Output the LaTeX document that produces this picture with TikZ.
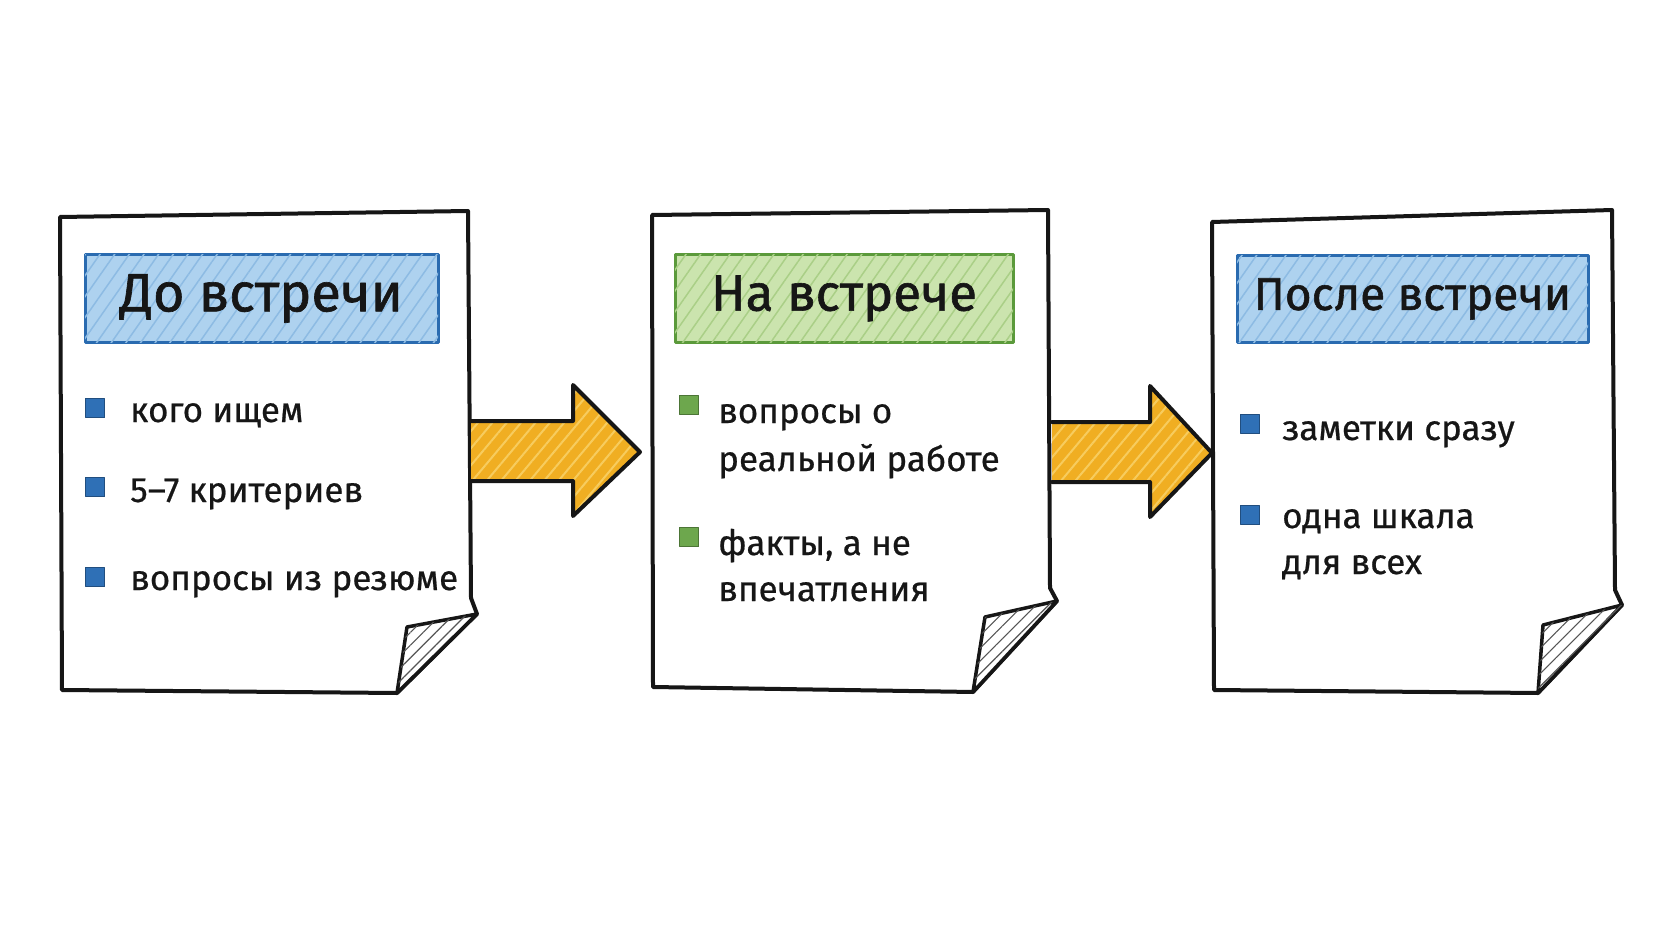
\documentclass[tikz,border=0pt]{standalone}
\usepackage{fontspec}
\setmainfont{Fira Sans}
\newfontfamily\itemfont[FakeBold=0.6]{Fira Sans}
\newfontfamily\titlefont[FakeBold=1.2]{Fira Sans}
\usetikzlibrary{patterns.meta}
\definecolor{ink}{HTML}{161616}
\definecolor{bluefill}{HTML}{AED2EF}
\definecolor{bluehatch}{HTML}{8DBBE3}
\definecolor{blueline}{HTML}{2A6BB0}
\definecolor{greenfill}{HTML}{CBE4AE}
\definecolor{greenhatch}{HTML}{AACF87}
\definecolor{greenline}{HTML}{5B9A3B}
\definecolor{arrowfill}{HTML}{F0AE22}
\definecolor{arrowhatch}{HTML}{F7CC5E}
\definecolor{bulletblue}{HTML}{2F70B6}
\definecolor{bulletgreen}{HTML}{6DA74D}
\definecolor{foldhatch}{HTML}{555555}
\newcommand{\bigarrow}[3]{% start, shaft length, head length
  \fill[arrowfill, postaction={pattern={Lines[angle=50,distance=11pt,line width=2pt]}, pattern color=arrowhatch}]
    (#1) ++(0,-28) -- ++(#2,0) -- ++(0,-36) -- ++(#3,67) -- ++(-#3,64) -- ++(0,-35) -- ++(-#2,0) -- cycle;
  \draw[arrowline] (#1) ++(0,-28) -- ++(#2,0) -- ++(0,-36) -- ++(#3,67) -- ++(-#3,64) -- ++(0,-35) -- ++(-#2,0);
}
\begin{document}
\begin{tikzpicture}[x=1pt,y=-1pt, line join=round, line cap=round,
  page/.style={draw=ink, line width=4pt, fill=white},
  fold/.style={draw=ink, line width=3.5pt, fill=white,
    postaction={pattern={Lines[angle=45,distance=9pt,line width=1.1pt]}, pattern color=foldhatch}},
  arrowline/.style={draw=ink, line width=4pt},
  titlebox/.style={line width=3pt, minimum height=87, inner sep=0pt, text=ink},
  tblue/.style={titlebox, draw=blueline, fill=bluefill,
    postaction={pattern={Lines[angle=55,distance=12pt,line width=1.5pt]}, pattern color=bluehatch}},
  tgreen/.style={titlebox, draw=greenline, fill=greenfill,
    postaction={pattern={Lines[angle=55,distance=12pt,line width=1.5pt]}, pattern color=greenhatch}},
  bullet/.style={minimum size=19, inner sep=0pt, line width=1pt},
  bblue/.style={bullet, fill=bulletblue, draw=bulletblue!70!black},
  bgreen/.style={bullet, fill=bulletgreen, draw=bulletgreen!70!black},
  item/.style={anchor=base west, inner sep=0pt, text=ink, font=\itemfont\fontsize{35}{42}\selectfont}]
\useasboundingbox[fill=white] (0,0) rectangle (1672,941);

% ---------- page 1 ----------
\coordinate (p1tl) at (60,217);
\coordinate (p1tr) at (468,211);
\coordinate (p1r) at (471,598);
\coordinate (p1tip) at (477,614);
\coordinate (p1bt) at (397,693);
\coordinate (p1bl) at (62,690);
\coordinate (p1in) at (407,627);
\draw[page] (p1tl) -- (p1tr) -- (p1r) -- (p1tip) -- (p1bt) -- (p1bl) -- cycle;
\draw[fold] (p1in) -- (p1tip) -- (p1bt) -- cycle;

% ---------- page 2 ----------
\coordinate (p2tl) at (652,215);
\coordinate (p2tr) at (1048,210);
\coordinate (p2r) at (1050,588);
\coordinate (p2tip) at (1057,601);
\coordinate (p2bt) at (973,692);
\coordinate (p2bl) at (653,687);
\coordinate (p2in) at (985,617);
\draw[page] (p2tl) -- (p2tr) -- (p2r) -- (p2tip) -- (p2bt) -- (p2bl) -- cycle;
\draw[fold] (p2in) -- (p2tip) -- (p2bt) -- cycle;

% ---------- page 3 ----------
\coordinate (p3tl) at (1212,222);
\coordinate (p3tr) at (1612,210);
\coordinate (p3r) at (1615,590);
\coordinate (p3tip) at (1622,605);
\coordinate (p3bt) at (1538,693);
\coordinate (p3bl) at (1214,690);
\coordinate (p3in) at (1543,625);
\draw[page] (p3tl) -- (p3tr) -- (p3r) -- (p3tip) -- (p3bt) -- (p3bl) -- cycle;
\draw[fold] (p3in) -- (p3tip) -- (p3bt) -- cycle;

% ---------- arrows ----------
\coordinate (a1) at (471,449);
\coordinate (a2) at (1052,450);
\bigarrow{a1}{102}{67}
\bigarrow{a2}{98}{62}

% ---------- titles ----------
\node[tblue, minimum width=353, font=\titlefont\fontsize{54}{60}\selectfont] (t1) at (261.5,298.5) {До встречи};
\node[tgreen, minimum width=338, font=\titlefont\fontsize{51}{60}\selectfont] (t2) at (844,298.5) {На встрече};
\node[tblue, minimum width=351, font=\titlefont\fontsize{46}{60}\selectfont] (t3) at (1412.5,299) {После встречи};

% ---------- page 1 items ----------
\node[bblue] (b11) at (95,408) {};
\node[item] (x11) at (130,422) {кого ищем};
\node[bblue] (b12) at (95,487) {};
\node[item] (x12) at (130,502) {5–7 критериев};
\node[bblue] (b13) at (95,577) {};
\node[item] (x13) at (130,590) {вопросы из резюме};

% ---------- page 2 items ----------
\node[bgreen] (b21) at (689,405) {};
\node[item] (x21) at (718,423) {вопросы о};
\node[item] (x22) at (718,471) {реальной работе};
\node[bgreen] (b22) at (689,537) {};
\node[item] (x23) at (718,555) {факты, а не};
\node[item] (x24) at (718,601) {впечатления};

% ---------- page 3 items ----------
\node[bblue] (b31) at (1250,424) {};
\node[item] (x31) at (1282,440) {заметки сразу};
\node[bblue] (b32) at (1250,515) {};
\node[item] (x32) at (1282,528) {одна шкала};
\node[item] (x33) at (1282,574) {для всех};
\end{tikzpicture}
\end{document}
